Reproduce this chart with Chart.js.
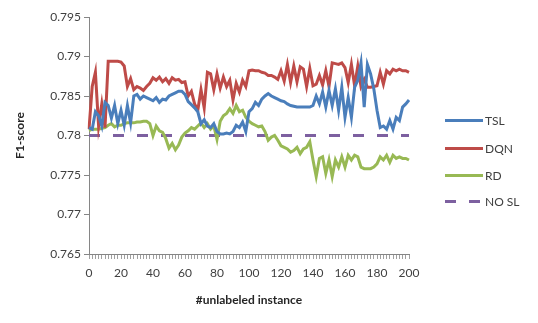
<!DOCTYPE html>
<html>
<head>
<meta charset="utf-8">
<script src="https://cdn.jsdelivr.net/npm/chart.js@4.4.0/dist/chart.umd.min.js"></script>
<style>
    html, body { margin: 0; padding: 0; background: #fff; }
    #wrap { width: 538px; height: 323px; }
</style>
</head>
<body>
<div id="wrap"><canvas id="f1Chart"></canvas></div>
<script>
// x categories: #unlabeled instance, sampled every 2
const instances = [];
for (let i = 0; i <= 200; i += 2) instances.push(i);

// y tick values
const yTicks = [0.765, 0.77, 0.775, 0.78, 0.785, 0.79, 0.795];

const tslScores = [
    0.7810, 0.7808, 0.7830, 0.7825, 0.7812, 0.7842, 0.7838, 0.7822, 0.7838, 0.7815,
    0.7832, 0.7813, 0.7838, 0.7816, 0.7850, 0.7852, 0.7846, 0.7850, 0.7848, 0.7846,
    0.7844, 0.7848, 0.7842, 0.7846, 0.7845, 0.7850, 0.7852, 0.7854, 0.7856, 0.7856,
    0.7852, 0.7843, 0.7839, 0.7835, 0.7830, 0.7815, 0.7820, 0.7812, 0.7810, 0.7815,
    0.7805, 0.7802, 0.7802, 0.7803, 0.7802, 0.7805, 0.7813, 0.7810, 0.7817, 0.7805,
    0.7830, 0.7834, 0.7842, 0.7838, 0.7846, 0.7850, 0.7853, 0.7850, 0.7848, 0.7846,
    0.7844, 0.7843, 0.7840, 0.7838, 0.7837, 0.7836, 0.7836, 0.7836, 0.7836, 0.7836,
    0.7838, 0.7850, 0.7840, 0.7855, 0.7836, 0.7857, 0.7838, 0.7859, 0.7832, 0.7861,
    0.7823, 0.7848, 0.7823, 0.7861, 0.7870, 0.7892, 0.7836, 0.7890, 0.7878, 0.7859,
    0.7832, 0.7810, 0.7812, 0.7808, 0.7819, 0.7808, 0.7823, 0.7819, 0.7836, 0.7840,
    0.7845
];

const dqnScores = [
    0.7808, 0.7862, 0.7880, 0.7812, 0.7840, 0.7810, 0.7894, 0.7894, 0.7894, 0.7894,
    0.7893, 0.7888, 0.7862, 0.7872, 0.7858, 0.7862, 0.7860, 0.7857, 0.7862, 0.7866,
    0.7873, 0.7870, 0.7874, 0.7868, 0.7872, 0.7866, 0.7873, 0.7870, 0.7871, 0.7867,
    0.7868, 0.7850, 0.7856, 0.7840, 0.7832, 0.7858, 0.7835, 0.7880, 0.7878, 0.7858,
    0.7878, 0.7860, 0.7874, 0.7862, 0.7870, 0.7845, 0.7866, 0.7855, 0.7870, 0.7862,
    0.7882, 0.7883, 0.7882, 0.7882, 0.7880, 0.7879, 0.7876, 0.7876, 0.7874, 0.7871,
    0.7882, 0.7869, 0.7890, 0.7867, 0.7888, 0.7868, 0.7887, 0.7884, 0.7862, 0.7885,
    0.7863, 0.7865, 0.7876, 0.7864, 0.7882, 0.7862, 0.7892, 0.7891, 0.7890, 0.7892,
    0.7886, 0.7867, 0.7890, 0.7863, 0.7888, 0.7862, 0.7871, 0.7861, 0.7861, 0.7862,
    0.7863, 0.7880, 0.7865, 0.7882, 0.7878, 0.7884, 0.7882, 0.7884, 0.7882, 0.7882,
    0.7880
];

const rdScores = [
    0.7806, 0.7808, 0.7808, 0.7808, 0.7809, 0.7810, 0.7813, 0.7815, 0.7811, 0.7813,
    0.7813, 0.7815, 0.7816, 0.7816, 0.7816, 0.7817, 0.7817, 0.7818, 0.7818, 0.7815,
    0.7800, 0.7812, 0.7806, 0.7804, 0.7796, 0.7784, 0.7790, 0.7782, 0.7788, 0.7798,
    0.7803, 0.7806, 0.7810, 0.7808, 0.7812, 0.7816, 0.7810, 0.7815, 0.7808, 0.7812,
    0.7795, 0.7818, 0.7825, 0.7828, 0.7834, 0.7828, 0.7838, 0.7830, 0.7832, 0.7823,
    0.7818, 0.7815, 0.7813, 0.7811, 0.7812, 0.7805, 0.7794, 0.7798, 0.7800, 0.7794,
    0.7787, 0.7785, 0.7783, 0.7779, 0.7781, 0.7785, 0.7777, 0.7783, 0.7785, 0.7792,
    0.7769, 0.7748, 0.7771, 0.7773, 0.7752, 0.7769, 0.7748, 0.7769, 0.7760, 0.7773,
    0.7760, 0.7775, 0.7769, 0.7775, 0.7773, 0.7760, 0.7758, 0.7758, 0.7758, 0.7760,
    0.7764, 0.7773, 0.7769, 0.7775, 0.7766, 0.7775, 0.7771, 0.7773, 0.7771, 0.7771,
    0.7769
];

// NO SL baseline (flat)
const noSlScore = 0.78;
const noSlScores = instances.map(() => noSlScore);

const seriesNames = ['TSL', 'DQN', 'RD', 'NO SL'];
const seriesColors = ['#4A7EBB', '#BE4B48', '#98B954', '#7D60A0'];

const FONT = 'Lato, "Open Sans", sans-serif';

// Legend drawn to the right, Excel style
const sideLegend = {
    id: 'sideLegend',
    afterDraw(chart) {
        const ctx = chart.ctx;
        const rowsY = [120.5, 148.5, 175.5, 201.5];
        ctx.save();
        chart.data.datasets.forEach((ds, i) => {
            const y = rowsY[i];
            ctx.beginPath();
            ctx.strokeStyle = ds.borderColor;
            ctx.lineWidth = 3;
            ctx.setLineDash(ds.borderDash || []);
            ctx.moveTo(445, y);
            ctx.lineTo(483, y);
            ctx.stroke();
            ctx.setLineDash([]);
            ctx.fillStyle = '#404040';
            ctx.font = '12px ' + FONT;
            ctx.textAlign = 'left';
            ctx.textBaseline = 'middle';
            ctx.fillText(ds.label, 485, y + 1);
        });
        ctx.restore();
    }
};

function makeLine(name, values, color, dash) {
    return {
        label: name,
        data: values,
        borderColor: color,
        backgroundColor: color,
        borderWidth: 3,
        borderDash: dash,
        pointRadius: 0,
        tension: 0,
        fill: false
    };
}

const ctx = document.getElementById('f1Chart').getContext('2d');
const chart = new Chart(ctx, {
    type: 'line',
    data: {
        labels: instances,
        datasets: [
            makeLine(seriesNames[0], tslScores, seriesColors[0]),
            makeLine(seriesNames[1], dqnScores, seriesColors[1]),
            makeLine(seriesNames[2], rdScores, seriesColors[2]),
            makeLine(seriesNames[3], noSlScores, seriesColors[3], [11, 13])
        ]
    },
    options: {
        responsive: true,
        maintainAspectRatio: false,
        animation: false,
        layout: { padding: { left: 0, right: 129, top: 17, bottom: 0 } },
        plugins: {
            legend: { display: false },
            tooltip: { enabled: false }
        },
        scales: {
            x: {
                type: 'category',
                offset: false,
                afterFit: (scale) => { scale.height = 69; },
                grid: {
                    drawOnChartArea: false,
                    drawTicks: true,
                    tickLength: 5,
                    color: '#A0A0A0'
                },
                border: { color: '#868686', width: 1 },
                ticks: {
                    autoSkip: false,
                    maxRotation: 0,
                    minRotation: 0,
                    padding: 7,
                    color: '#404040',
                    font: { family: FONT, size: 12 },
                    callback: (val, idx) => (instances[idx] % 20 === 0 ? String(instances[idx]) : '')
                },
                title: {
                    display: true,
                    text: '#unlabeled instance',
                    color: '#262626',
                    font: { family: FONT, size: 12, weight: 'bold' },
                    padding: { top: 0, bottom: 16 }
                }
            },
            y: {
                min: 0.765,
                max: 0.795,
                afterFit: (scale) => { scale.width = 89; },
                afterBuildTicks: (scale) => { scale.ticks = yTicks.map(v => ({ value: v })); },
                grid: {
                    drawOnChartArea: false,
                    drawTicks: true,
                    tickLength: 5,
                    color: '#868686'
                },
                border: { color: '#868686', width: 1 },
                ticks: {
                    padding: 3,
                    color: '#404040',
                    font: { family: FONT, size: 12 },
                    callback: (v) => String(parseFloat(v.toFixed(3)))
                },
                title: {
                    display: true,
                    text: 'F1-score',
                    color: '#262626',
                    font: { family: FONT, size: 12, weight: 'bold' },
                    padding: { top: 13, bottom: 0 }
                }
            }
        }
    },
    plugins: [sideLegend]
});
</script>
</body>
</html>
